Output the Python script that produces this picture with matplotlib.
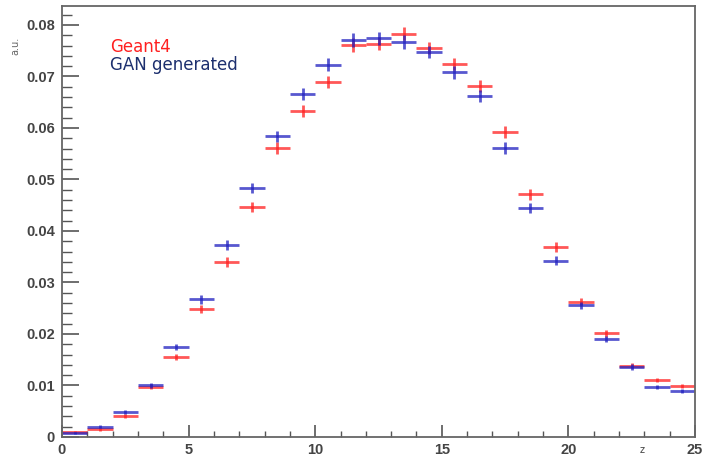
import matplotlib.pyplot as plt
from matplotlib.ticker import MultipleLocator

# bin centres along z (bins of width 1 from 0 to 25)
z_centres = [i + 0.5 for i in range(25)]

geant4 = [0.0010, 0.0015, 0.0041, 0.0098, 0.0155, 0.0248, 0.0340, 0.0447,
          0.0561, 0.0633, 0.0689, 0.0761, 0.0764, 0.0783, 0.0755, 0.0724,
          0.0682, 0.0592, 0.0471, 0.0369, 0.0263, 0.0201, 0.0138, 0.0110,
          0.0099]
gan = [0.0008, 0.0020, 0.0049, 0.0100, 0.0174, 0.0267, 0.0373, 0.0483,
       0.0584, 0.0666, 0.0723, 0.0771, 0.0774, 0.0767, 0.0748, 0.0708,
       0.0662, 0.0561, 0.0445, 0.0342, 0.0256, 0.0190, 0.0136, 0.0097,
       0.0089]
err_geant4 = [0.0002, 0.0003, 0.0004, 0.0005, 0.0006, 0.0008, 0.0009, 0.0010,
              0.0011, 0.0012, 0.0012, 0.0013, 0.0013, 0.0013, 0.0012, 0.0012,
              0.0012, 0.0011, 0.0010, 0.0009, 0.0007, 0.0006, 0.0005, 0.0004,
              0.0004]
err_gan = err_geant4

red = '#ff2020'
blue = '#2020c0'

fig = plt.figure(figsize=(7.1, 4.55), dpi=100)
ax = fig.add_axes([0.0873, 0.0396, 0.8916, 0.9474])

ax.errorbar(z_centres, geant4, xerr=0.5, yerr=err_geant4, fmt='none',
            ecolor=red, elinewidth=2, alpha=0.75, capsize=0)
ax.errorbar(z_centres, gan, xerr=0.5, yerr=err_gan, fmt='none',
            ecolor=blue, elinewidth=2, alpha=0.75, capsize=0)

ax.set_xlim(0, 25)
ax.set_ylim(0, 0.0837)

ax.xaxis.set_major_locator(MultipleLocator(5))
ax.xaxis.set_minor_locator(MultipleLocator(1))
ax.yaxis.set_major_locator(MultipleLocator(0.01))
ax.yaxis.set_minor_locator(MultipleLocator(0.002))
ax.yaxis.set_major_formatter(plt.FuncFormatter(lambda v, p: '0' if v == 0 else f'{v:.2f}'))

ax.tick_params(which='both', direction='in', top=False, right=False,
               colors='#555555', labelcolor='#444444', labelsize=10.5)
ax.tick_params(axis='x', which='major', length=9, width=1.2, pad=4)
ax.tick_params(axis='x', which='minor', length=4, width=1)
ax.tick_params(axis='y', which='major', length=12, width=1.2, pad=5)
ax.tick_params(axis='y', which='minor', length=7, width=1)
for lab in ax.get_xticklabels() + ax.get_yticklabels():
    lab.set_fontweight('bold')
    lab.set_family('Liberation Sans')
for s in ax.spines.values():
    s.set_color('#666666')
    s.set_linewidth(1.3)

ax.text(0.076, 0.905, 'Geant4', color='#ff2020', transform=ax.transAxes,
        fontsize=12, family='DejaVu Sans', va='center')
ax.text(0.076, 0.862, 'GAN generated', color='#1c2f6e', transform=ax.transAxes,
        fontsize=12, family='DejaVu Sans', va='center')

fig.text(0.021, 0.9, 'a.u.', rotation=90, fontsize=7, color='#666666',
         ha='center', va='center')
fig.text(0.905, 0.012, 'z', fontsize=7, color='#444444', ha='center', va='center')

fig.savefig('out.png', dpi=100)
